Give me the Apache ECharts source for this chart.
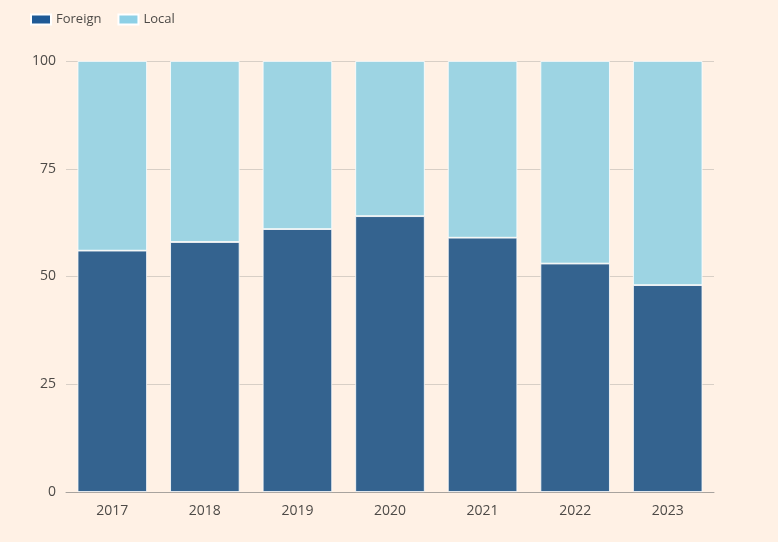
<!DOCTYPE html>
<html><head><meta charset="utf-8">
<script src="https://cdn.jsdelivr.net/npm/echarts@6/dist/echarts.min.js"></script>
<style>html,body{margin:0;padding:0;background:#FFF1E5;}#c{width:778px;height:542px;}</style>
</head><body><div id="c"></div>
<script>
const years = ['2017','2018','2019','2020','2021','2022','2023'];
const foreign = [56, 58, 61, 64, 59, 53, 48];
const local = [44, 42, 39, 36, 41, 47, 52];
const yTicks = [0, 25, 50, 75, 100];

const font = '"Open Sans", sans-serif';
const chart = echarts.init(document.getElementById('c'));
chart.setOption({
  backgroundColor: '#FFF1E5',
  animation: false,
  legend: {
    left: 25, top: 8, itemWidth: 20, itemHeight: 10, itemGap: 16, icon: 'rect',
    textStyle: {fontFamily: font, fontSize: 13, color: '#4d4a47'},
    data: [
      {name: 'Foreign', itemStyle: {color: '#1f5a96'}},
      {name: 'Local', itemStyle: {color: '#8dd0e6'}}
    ]
  },
  grid: {left: 66, right: 64, top: 61, bottom: 50},
  xAxis: {
    type: 'category', data: years,
    axisLine: {lineStyle: {color: '#a8a39e'}},
    axisTick: {alignWithLabel: true, length: 6, lineStyle: {color: '#a8a39e'}},
    axisLabel: {fontFamily: font, fontSize: 14, color: '#4d4a47', margin: 12}
  },
  yAxis: {
    type: 'value', min: yTicks[0], max: yTicks[yTicks.length - 1], interval: 25,
    axisLine: {show: false}, axisTick: {show: false},
    axisLabel: {fontFamily: font, fontSize: 14, color: '#4d4a47', margin: 10},
    splitLine: {lineStyle: {color: '#d8cfc6'}}
  },
  series: [
    {name: 'Foreign', type: 'bar', stack: 'a', data: foreign, barWidth: '75%',
     itemStyle: {color: '#34638f', borderColor: '#ffffff', borderWidth: 0.8}},
    {name: 'Local', type: 'bar', stack: 'a', data: local, barWidth: '75%',
     itemStyle: {color: '#9dd4e3', borderColor: '#ffffff', borderWidth: 0.8}}
  ]
});
</script></body></html>
